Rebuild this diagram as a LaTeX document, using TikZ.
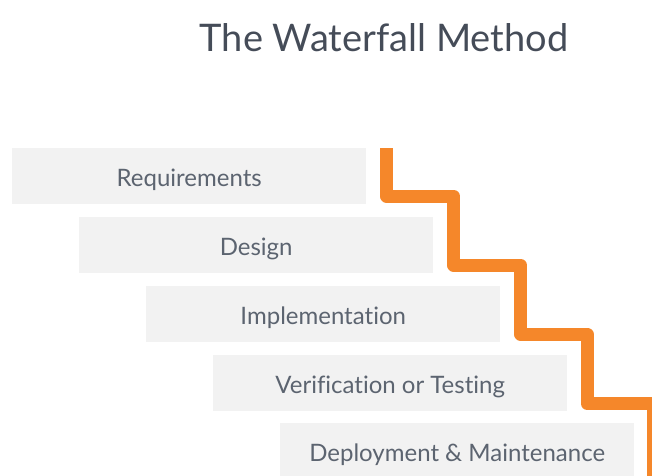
\documentclass[tikz,border=0pt]{standalone}
\usepackage{fontspec}
\setmainfont[Ligatures={NoCommon}]{Lato}
\definecolor{boxfill}{HTML}{F2F2F2}
\definecolor{txt}{HTML}{5C6470}
\definecolor{titlec}{HTML}{454C58}
\definecolor{flow}{HTML}{F5872A}
\begin{document}
\begin{tikzpicture}[x=1pt,y=-1pt,
  stage/.style={rectangle, fill=boxfill, draw=none, minimum width=354pt, minimum height=56pt,
    inner sep=0pt, anchor=north west, text=txt, text height=22pt, text depth=2pt,
    font=\fontsize{24}{26}\selectfont},
  flowline/.style={draw=flow, line width=13pt, line join=round, line cap=butt}]
\useasboundingbox (0,0) rectangle (652,475);
\clip (0,0) rectangle (652,475);
\node[text=titlec, font=\fontsize{38}{42}\selectfont, anchor=base] (title) at (384,51) {The Waterfall Method};
\node[stage] (req) at (12,148) {Requirements};
\node[stage] (des) at (79,217) {Design};
\node[stage] (imp) at (146,286) {Implementation};
\node[stage] (ver) at (213,355) {Verification or Testing};
\node[stage] (dep) at (280,423) {Deployment \& Maintenance};
\draw[flowline] (386.5,148) -- (386.5,196) -- (453.5,196) -- (453.5,265) -- (520.5,265)
  -- (520.5,334) -- (587,334) -- (587,403.5) -- (653.5,403.5) -- (653.5,480);
\end{tikzpicture}
\end{document}
